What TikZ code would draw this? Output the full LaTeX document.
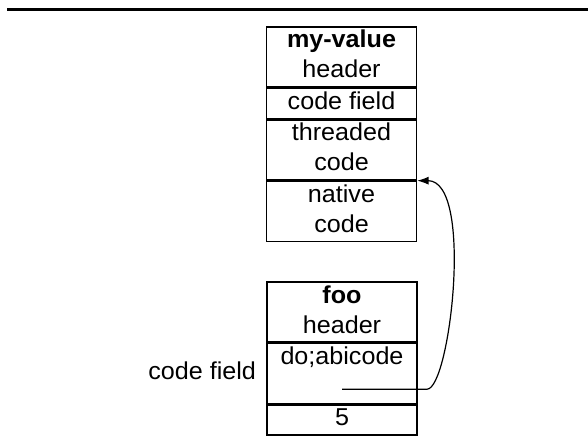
\documentclass[tikz,border=0pt]{standalone}
\usepackage{fontspec}
\setmainfont{Liberation Sans}[FakeStretch=1.03]
\usetikzlibrary{calc, positioning, arrows.meta}

\tikzset{
  cell/.style={draw, line width=1.1pt, align=center, inner sep=0pt,
    minimum width=112.5pt, font=\fontsize{18.3}{22.5}\selectfont},
  one/.style={cell, minimum height=22.5pt},
  two/.style={cell, minimum height=45pt},
  lbl/.style={inner sep=0pt, font=\fontsize{18.3}{22.5}\selectfont},
}

\begin{document}
\begin{tikzpicture}[x=0.75pt, y=-0.75pt]
\useasboundingbox (0,0) rectangle (588,442);
\draw[line width=2.25pt] (7,9.5) -- (588,9.5);
% the word my-value
\node[two] (mvhead) at (341.5,57) {\strut\textbf{my-value}\\\strut header};
\node[one, below=0pt of mvhead] (mvcf) {\strut code field};
\node[two, below=0pt of mvcf] (mvthr) {\strut threaded\\\strut code};
\node[two, below=0pt of mvthr] (mvnat) {\strut native\\\strut code};
% the word foo
\node[two] (foohead) at (342,312) {\strut\textbf{foo}\\\strut header};
\node[two, below=0pt of foohead] (foocf) {\strut do;abicode\\\strut};
\node[one, below=0pt of foocf] (fooval) {\strut 5};
\node[lbl, left=7.5pt of foocf] (cflabel) {\strut code field};
% pointer into the native code
\coordinate (ptr) at ($(foocf.south)+(0,-15)$);
\coordinate (bend) at ($(ptr)+(85,0)$);
\draw[-{Latex[length=8.5pt,width=6pt]}, line width=0.9pt]
  (ptr) -- (bend) .. controls +(23,0) and +(57,0) .. (mvthr.south east);
\end{tikzpicture}
\end{document}
